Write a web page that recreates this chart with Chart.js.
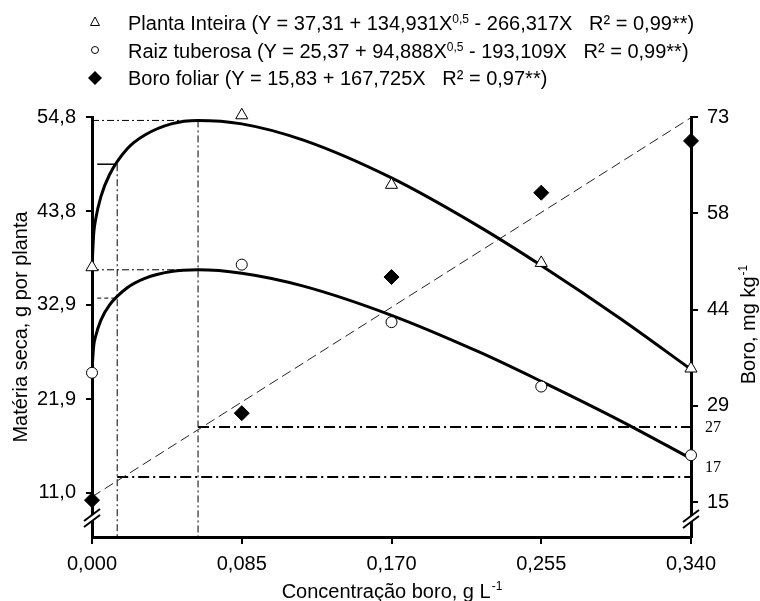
<!DOCTYPE html>
<html>
<head>
<meta charset="utf-8">
<script src="https://cdn.jsdelivr.net/npm/chart.js@4.4.1/dist/chart.umd.min.js"></script>
<style>
  html, body { margin: 0; padding: 0; background: #fff; }
  #wrap { position: relative; width: 760px; height: 601px; overflow: hidden; }
  #legend { position: absolute; left: 0; top: 0; font-family: "Liberation Sans", Arial, sans-serif; font-size: 20px; color: #000; }
  .row { position: absolute; left: 128px; white-space: pre; line-height: 20px; }
  .row sup { font-size: 12px; vertical-align: 7px; line-height: 0; }
  .mk { position: absolute; left: 87px; }
</style>
</head>
<body>
<div id="wrap">
  <canvas id="chart" width="760" height="601"></canvas>
  <div id="legend"></div>
</div>
<script>
// eixos
var xTicks = [0, 0.085, 0.170, 0.255, 0.340];
var xTickLabels = ['0,000', '0,085', '0,170', '0,255', '0,340'];
var leftTicks = [11.0, 21.9, 32.9, 43.8, 54.8];
var leftTickLabels = ['11,0', '21,9', '32,9', '43,8', '54,8'];
var rightTicks = [15, 29.5, 44, 58.5, 73];
var rightTickLabels = ['15', '29', '44', '58', '73'];
var leftRange = [5.87, 54.8];
var rightRange = [9.75, 73];

// pontos observados
var obsX = [0, 0.085, 0.170, 0.255, 0.340];
var plantaObs = [37.3, 55.0, 46.9, 37.8, 25.5];
var raizObs = [25.0, 37.6, 30.9, 23.4, 15.4];
var boroObs = [15.3, 28.4, 48.9, 61.6, 69.4];

// curvas ajustadas, lidas ao longo das linhas desenhadas
var fitX = [0, 0.001, 0.002, 0.005, 0.01, 0.02, 0.03, 0.045, 0.06, 0.085, 0.12, 0.17, 0.22, 0.255, 0.30, 0.34];
var plantaFit = [37.3, 41.3, 42.8, 45.5, 48.1, 51.1, 52.7, 54.0, 54.4, 54.0, 52.1, 47.7, 42.0, 37.5, 31.3, 25.4];
var raizFit = [25.4, 28.2, 29.2, 31.1, 32.9, 34.9, 36.0, 36.8, 37.0, 36.6, 35.1, 31.7, 27.4, 24.0, 19.4, 15.0];
var boroFitX = [0, 0.34];
var boroFit = [15.8, 72.9];

// linhas de referência
var critX = [0.0143, 0.0602];
var critTop = [49.3, 54.4];
var maxY = [54.4, 37.0];          // máximos planta / raiz
var stubY = [49.3, 33.7];         // traços curtos no eixo esquerdo
var stubStartX = 0.003;
var boroLevels = [26.3, 18.8];
var boroLevelFromX = [0.0602, 0.0143];
var boroLevelLabels = ['27', '17'];

// textos
var legendNames = ['Planta Inteira', 'Raiz tuberosa', 'Boro foliar'];
var legendEqs = [
    ['(Y = 37,31 + 134,931X', '0,5', ' - 266,317X   R\u00b2 = 0,99**)'],
    ['(Y = 25,37 + 94,888X', '0,5', ' - 193,109X   R\u00b2 = 0,99**)'],
    ['(Y = 15,83 + 167,725X   R\u00b2 = 0,97**)', '', '']
];
var xTitle = ['Concentra\u00e7\u00e3o boro, g L', '-1'];
var yTitle = ['Mat\u00e9ria seca, g por planta', ''];
var y2Title = ['Boro, mg kg', '-1'];

var FONT = '"Liberation Sans", Arial, sans-serif';

function pts(xs, ys) {
    return xs.map(function(x, i) { return { x: x, y: ys[i] }; });
}
function seg(x1, y1, x2, y2) {
    return [{ x: x1, y: y1 }, { x: x2, y: y2 }];
}

// legenda em HTML (para o sobrescrito)
(function buildLegend() {
    var lg = document.getElementById('legend');
    var tops = [13, 41, 68];
    var markers = [
        '<svg class="mk" width="16" height="16" style="top:14px"><polygon points="8,3 12.5,11.5 3.5,11.5" fill="none" stroke="#000" stroke-width="1"/></svg>',
        '<svg class="mk" width="16" height="16" style="top:42px"><circle cx="8" cy="8" r="3.5" fill="none" stroke="#000" stroke-width="1"/></svg>',
        '<svg class="mk" width="16" height="16" style="top:70px"><polygon points="8,1 15,8 8,15 1,8" fill="#000"/></svg>'
    ];
    var html = '';
    legendNames.forEach(function(name, i) {
        var e = legendEqs[i];
        html += markers[i];
        html += '<div class="row" style="top:' + tops[i] + 'px">' + name + ' ' + e[0] +
            (e[1] ? '<sup>' + e[1] + '</sup>' : '') + e[2] + '</div>';
    });
    lg.innerHTML = html;
})();

function drawSup(ctx, parts, x, y, size) {
    ctx.font = size + 'px ' + FONT;
    var w1 = ctx.measureText(parts[0]).width;
    ctx.font = Math.round(size * 0.62) + 'px ' + FONT;
    var w2 = parts[1] ? ctx.measureText(parts[1]).width : 0;
    var start = x - (w1 + w2) / 2;
    ctx.textAlign = 'left';
    ctx.textBaseline = 'alphabetic';
    ctx.font = size + 'px ' + FONT;
    ctx.fillText(parts[0], start, y);
    if (parts[1]) {
        ctx.font = Math.round(size * 0.62) + 'px ' + FONT;
        ctx.fillText(parts[1], start + w1 + 1, y - 8);
    }
}

function drawBreak(ctx, x, yc) {
    ctx.fillStyle = '#fff';
    ctx.fillRect(x - 3, yc - 3, 6, 6);
    ctx.strokeStyle = '#000';
    ctx.lineWidth = 2;
    [-3, 3].forEach(function(off) {
        ctx.beginPath();
        ctx.moveTo(x - 8, yc + off + 6);
        ctx.lineTo(x + 8, yc + off - 6);
        ctx.stroke();
    });
}

var decor = {
    id: 'decor',
    afterDraw: function(chart) {
        var ctx = chart.ctx, a = chart.chartArea, y2 = chart.scales.y2;
        ctx.save();
        ctx.fillStyle = '#000';
        drawSup(ctx, xTitle, (a.left + a.right) / 2, 598, 20);

        ctx.save();
        ctx.translate(27, (a.top + a.bottom) / 2);
        ctx.rotate(-Math.PI / 2);
        drawSup(ctx, yTitle, 0, 0, 20);
        ctx.restore();

        ctx.save();
        ctx.translate(755, (a.top + a.bottom) / 2 - 2);
        ctx.rotate(-Math.PI / 2);
        drawSup(ctx, y2Title, 0, 0, 20);
        ctx.restore();

        ctx.fillStyle = '#000';
        ctx.font = '16px "Liberation Serif", "Times New Roman", serif';
        ctx.textAlign = 'left';
        ctx.textBaseline = 'middle';
        ctx.fillText(boroLevelLabels[0], a.right + 14, y2.getPixelForValue(boroLevels[0]) + 1);
        ctx.fillText(boroLevelLabels[1], a.right + 14, y2.getPixelForValue(boroLevels[1]) - 9);

        drawBreak(ctx, a.left, a.bottom - 19);
        drawBreak(ctx, a.right, a.bottom - 18);
        ctx.restore();
    }
};

var DASHDOT = [7, 3, 2, 3];
var DASHDOT_BOLD = [11, 4, 2, 4];

function refLine(data, axis, width, dash) {
    return {
        data: data, yAxisID: axis, borderColor: '#000', borderWidth: width,
        borderDash: dash, pointRadius: 0, fill: false, tension: 0
    };
}

var datasets = [
    {
        label: legendNames[2], data: pts(obsX, boroObs), yAxisID: 'y2', showLine: false,
        pointStyle: 'rectRot', pointRadius: 7.5, pointBackgroundColor: '#000', pointBorderColor: '#000', clip: false
    },
    {
        label: legendNames[0], data: pts(obsX, plantaObs), yAxisID: 'y', showLine: false,
        pointStyle: 'triangle', pointRadius: 7, pointBackgroundColor: '#fff', pointBorderColor: '#000', pointBorderWidth: 1, clip: false
    },
    {
        label: legendNames[1], data: pts(obsX, raizObs), yAxisID: 'y', showLine: false,
        pointStyle: 'circle', pointRadius: 5.5, pointBackgroundColor: '#fff', pointBorderColor: '#000', pointBorderWidth: 1, clip: false
    },
    {
        data: pts(fitX, plantaFit), yAxisID: 'y', borderColor: '#000', borderWidth: 3,
        pointRadius: 0, cubicInterpolationMode: 'monotone', fill: false
    },
    {
        data: pts(fitX, raizFit), yAxisID: 'y', borderColor: '#000', borderWidth: 3,
        pointRadius: 0, cubicInterpolationMode: 'monotone', fill: false
    },
    {
        data: pts(boroFitX, boroFit), yAxisID: 'y2', borderColor: '#222', borderWidth: 1,
        borderDash: [10, 5], pointRadius: 0, fill: false
    },
    refLine(seg(critX[0], critTop[0], critX[0], leftRange[0]), 'y', 1, DASHDOT),
    refLine(seg(critX[1], critTop[1], critX[1], leftRange[0]), 'y', 1, DASHDOT),
    refLine(seg(0, maxY[0], critX[1], maxY[0]), 'y', 1, DASHDOT),
    refLine(seg(0, maxY[1], critX[1], maxY[1]), 'y', 1, DASHDOT),
    refLine(seg(stubStartX, stubY[0], critX[0], stubY[0]), 'y', 1.5, []),
    refLine(seg(stubStartX, stubY[1], critX[0], stubY[1]), 'y', 1, [4, 3]),
    refLine(seg(boroLevelFromX[0], boroLevels[0], 0.34, boroLevels[0]), 'y2', 2, DASHDOT_BOLD),
    refLine(seg(boroLevelFromX[1], boroLevels[1], 0.34, boroLevels[1]), 'y2', 2, DASHDOT_BOLD)
];

function axisGrid(len) {
    return { drawOnChartArea: false, drawTicks: true, tickLength: len, color: '#000', lineWidth: 2 };
}
var border = { display: true, color: '#000', width: 3 };

new Chart(document.getElementById('chart'), {
    type: 'line',
    data: { datasets: datasets },
    options: {
        responsive: false,
        animation: false,
        devicePixelRatio: 1,
        layout: { padding: { top: 117, left: 0, right: 0, bottom: 0 } },
        plugins: { legend: { display: false }, tooltip: { enabled: false } },
        scales: {
            x: {
                type: 'linear', min: 0, max: 0.34,
                afterBuildTicks: function(s) { s.ticks = xTicks.map(function(v) { return { value: v }; }); },
                afterFit: function(s) { s.height = 64; },
                ticks: {
                    callback: function(v, i) { return xTickLabels[i]; },
                    color: '#000', font: { family: FONT, size: 20 }, padding: 8, maxRotation: 0, autoSkip: false
                },
                grid: axisGrid(7), border: border
            },
            y: {
                position: 'left', min: leftRange[0], max: leftRange[1],
                afterBuildTicks: function(s) { s.ticks = leftTicks.map(function(v) { return { value: v }; }); },
                afterFit: function(s) { s.width = 92; },
                ticks: {
                    callback: function(v, i) { return leftTickLabels[i]; },
                    color: '#000', font: { family: FONT, size: 20 }, padding: 10, autoSkip: false
                },
                grid: axisGrid(6), border: border
            },
            y2: {
                position: 'right', min: rightRange[0], max: rightRange[1],
                afterBuildTicks: function(s) { s.ticks = rightTicks.map(function(v) { return { value: v }; }); },
                afterFit: function(s) { s.width = 69; },
                ticks: {
                    callback: function(v, i) { return rightTickLabels[i]; },
                    color: '#000', font: { family: FONT, size: 20 }, padding: 9, autoSkip: false
                },
                grid: axisGrid(7), border: border
            }
        }
    },
    plugins: [decor]
});
</script>
</body>
</html>
